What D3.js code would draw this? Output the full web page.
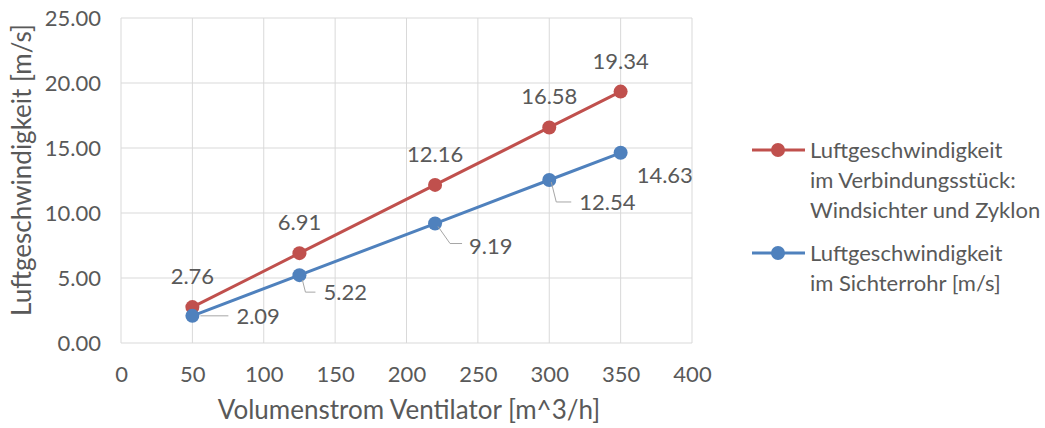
<!DOCTYPE html>
<html><head><meta charset="utf-8">
<script src="https://cdn.jsdelivr.net/npm/d3@7"></script>
<style>body{margin:0;background:#fff}text{font-family:Lato,"Open Sans",sans-serif;fill:#595959}</style>
</head><body><svg id="c" width="1045" height="428"></svg>
<script>
// Daten
const volumenstrom = [50, 125, 220, 300, 350];
const vVerbindung = [2.76, 6.91, 12.16, 16.58, 19.34];
const vSichterrohr = [2.09, 5.22, 9.19, 12.54, 14.63];
const xTicks = [0, 50, 100, 150, 200, 250, 300, 350, 400];
const yTicks = [0, 5, 10, 15, 20, 25];
const seriesNames = [
  ['Luftgeschwindigkeit', 'im Verbindungsstück:', 'Windsichter und Zyklon'],
  ['Luftgeschwindigkeit', 'im Sichterrohr [m/s]']
];

const RED = '#C0504D', BLUE = '#4F81BD';
const FS = '22px', FT = '26px';
const svg = d3.select('#c');
const x = d3.scaleLinear().domain([0, 400]).range([121, 692]);
const y = d3.scaleLinear().domain([0, 25]).range([343, 18]);

// Gitter
svg.append('g').selectAll('line').data(yTicks).join('line')
  .attr('x1', x(0)).attr('x2', x(400)).attr('y1', d => y(d)).attr('y2', d => y(d))
  .attr('stroke', '#D9D9D9').attr('stroke-width', 1);
svg.append('g').selectAll('line').data(xTicks).join('line')
  .attr('y1', y(0)).attr('y2', y(25)).attr('x1', d => x(d)).attr('x2', d => x(d))
  .attr('stroke', '#D9D9D9').attr('stroke-width', 1);

// Achsen
const ax = svg.append('g').attr('transform', `translate(0,${y(0)})`)
  .call(d3.axisBottom(x).tickValues(xTicks).tickSize(0).tickPadding(23));
ax.select('.domain').remove();
ax.selectAll('text').style('font-size', FS).attr('fill', '#595959').attr('font-family', null);
const ay = svg.append('g').attr('transform', `translate(${x(0)},0)`)
  .call(d3.axisLeft(y).tickValues(yTicks).tickSize(0).tickPadding(20).tickFormat(d3.format('.2f')));
ay.select('.domain').remove();
ay.selectAll('text').style('font-size', FS).attr('fill', '#595959').attr('font-family', null);

svg.append('text').attr('x', 409).attr('y', 419).attr('text-anchor', 'middle')
  .style('font-size', FT).text('Volumenstrom Ventilator [m^3/h]');
svg.append('text').attr('transform', `translate(31,170) rotate(-90)`).attr('text-anchor', 'middle')
  .style('font-size', FT).text('Luftgeschwindigkeit [m/s]');

// Linien
const line = d3.line().x((d, i) => x(volumenstrom[i])).y(d => y(d));
[[vVerbindung, RED], [vSichterrohr, BLUE]].forEach(([vals, col]) => {
  svg.append('path').attr('d', line(vals)).attr('fill', 'none').attr('stroke', col).attr('stroke-width', 3);
  svg.append('g').selectAll('circle').data(vals).join('circle')
    .attr('cx', (d, i) => x(volumenstrom[i])).attr('cy', d => y(d)).attr('r', 7).attr('fill', col);
});

// Beschriftungen rot: oberhalb
svg.append('g').selectAll('text').data(vVerbindung).join('text')
  .attr('x', (d, i) => x(volumenstrom[i])).attr('y', d => y(d) - 23)
  .attr('text-anchor', 'middle').style('font-size', FS)
  .text(d => d.toFixed(2));

// Beschriftungen blau: mit Führungslinien
const blueOff = [
  { dx: 44, dy: 0, leader: [[8, 0], [36, 0]] },
  { dx: 24, dy: 17, leader: [[3, 5], [6, 17], [16, 17]] },
  { dx: 34, dy: 22, leader: [[3, 3], [15, 20], [27, 20]] },
  { dx: 30, dy: 22, leader: [[2, 2], [7, 22], [22, 22]] },
  { dx: 16, dy: 22, leader: null }
];
blueOff.forEach((o, i) => {
  const px = x(volumenstrom[i]), py = y(vSichterrohr[i]);
  if (o.leader) {
    svg.append('path').attr('d', d3.line()(o.leader.map(p => [px + p[0], py + p[1]])))
      .attr('fill', 'none').attr('stroke', '#A6A6A6').attr('stroke-width', 1);
  }
  svg.append('text').attr('x', px + o.dx).attr('y', py + o.dy + 8)
    .style('font-size', FS).text(vSichterrohr[i].toFixed(2));
});

// Legende
const leg = svg.append('g');
[[RED, 150], [BLUE, 253]].forEach(([col, ly], k) => {
  leg.append('line').attr('x1', 752).attr('x2', 805).attr('y1', ly).attr('y2', ly)
    .attr('stroke', col).attr('stroke-width', 3);
  leg.append('circle').attr('cx', 778).attr('cy', ly).attr('r', 7).attr('fill', col);
  seriesNames[k].forEach((s, j) => {
    leg.append('text').attr('x', 810).attr('y', ly + 8 + j * 30).style('font-size', FS).text(s);
  });
});
</script></body></html>
